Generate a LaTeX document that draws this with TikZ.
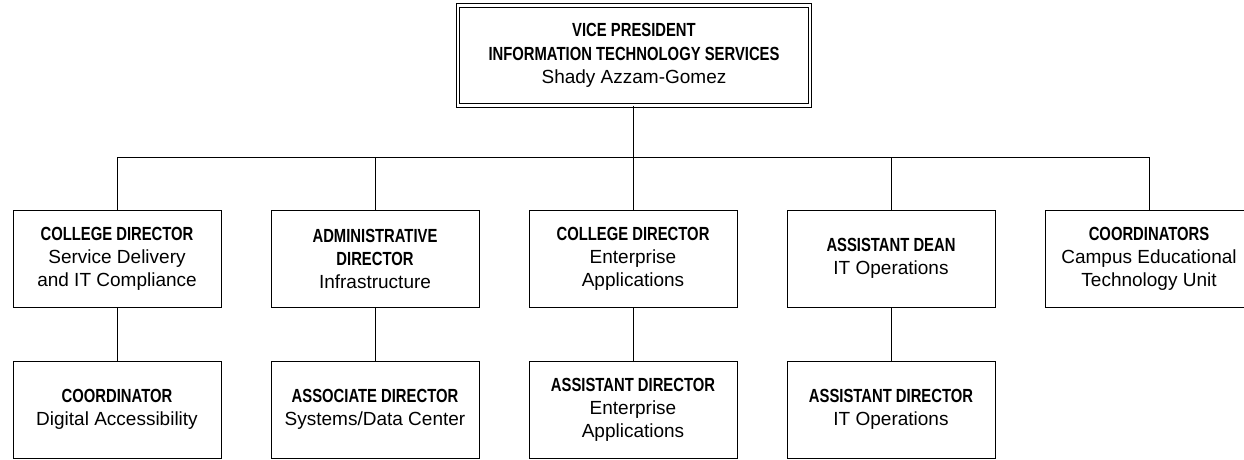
\documentclass[tikz,border=0pt]{standalone}
\usepackage{fontspec}
\setmainfont{Liberation Sans}
\newfontfamily\condb[FakeStretch=0.78]{Liberation Sans Bold}
\tikzset{
  unitbox/.style={draw=black, line width=1pt, fill=white, minimum width=208pt, minimum height=97pt,
    align=center, inner sep=0pt, font=\fontsize{19}{23}\selectfont},
  topbox/.style={draw=black, line width=0.9pt, double, double distance=2.4pt,
    minimum width=352pt, minimum height=100pt, align=center, inner sep=0pt,
    font=\fontsize{19}{23.5}\selectfont},
  link/.style={draw=black, line width=1pt}
}
\newcommand{\ttl}[1]{{\condb #1}}
\begin{document}
\begin{tikzpicture}[x=1pt,y=1pt]
\useasboundingbox (0,0) rectangle (1244,-459);
\node[topbox] (vp) at (634,-55.5) {\ttl{VICE PRESIDENT}\\\ttl{INFORMATION TECHNOLOGY SERVICES}\\Shady Azzam-Gomez};
\coordinate (bus) at (0,-157);
% level 1
\node[unitbox] (c1) at (117,-258.5) {\ttl{COLLEGE DIRECTOR}\\Service Delivery\\and IT Compliance};
\node[unitbox] (c2) at (375,-258.5) {\ttl{ADMINISTRATIVE}\\\ttl{DIRECTOR}\\Infrastructure};
\node[unitbox] (c3) at (633,-258.5) {\ttl{COLLEGE DIRECTOR}\\Enterprise\\Applications};
\node[unitbox] (c4) at (891,-258.5) {\ttl{ASSISTANT DEAN}\\IT Operations};
\node[unitbox] (c5) at (1149,-258.5) {\ttl{COORDINATORS}\\Campus Educational\\Technology Unit};
% level 2
\node[unitbox] (d1) at (117,-409.5) {\ttl{COORDINATOR}\\Digital Accessibility};
\node[unitbox] (d2) at (375,-409.5) {\ttl{ASSOCIATE DIRECTOR}\\Systems/Data Center};
\node[unitbox] (d3) at (633,-409.5) {\ttl{ASSISTANT DIRECTOR}\\Enterprise\\Applications};
\node[unitbox] (d4) at (891,-409.5) {\ttl{ASSISTANT DIRECTOR}\\IT Operations};
% connectors
\draw[link] (vp.south -| c3.north) -- (c3.north |- bus);
\draw[link] (c1.north) -- (c1.north |- bus) -| (c5.north);
\draw[link] (c2.north) -- (c2.north |- bus);
\draw[link] (c3.north) -- (c3.north |- bus);
\draw[link] (c4.north) -- (c4.north |- bus);
\draw[link] (c1.south) -- (d1.north);
\draw[link] (c2.south) -- (d2.north);
\draw[link] (c3.south) -- (d3.north);
\draw[link] (c4.south) -- (d4.north);
\end{tikzpicture}
\end{document}
